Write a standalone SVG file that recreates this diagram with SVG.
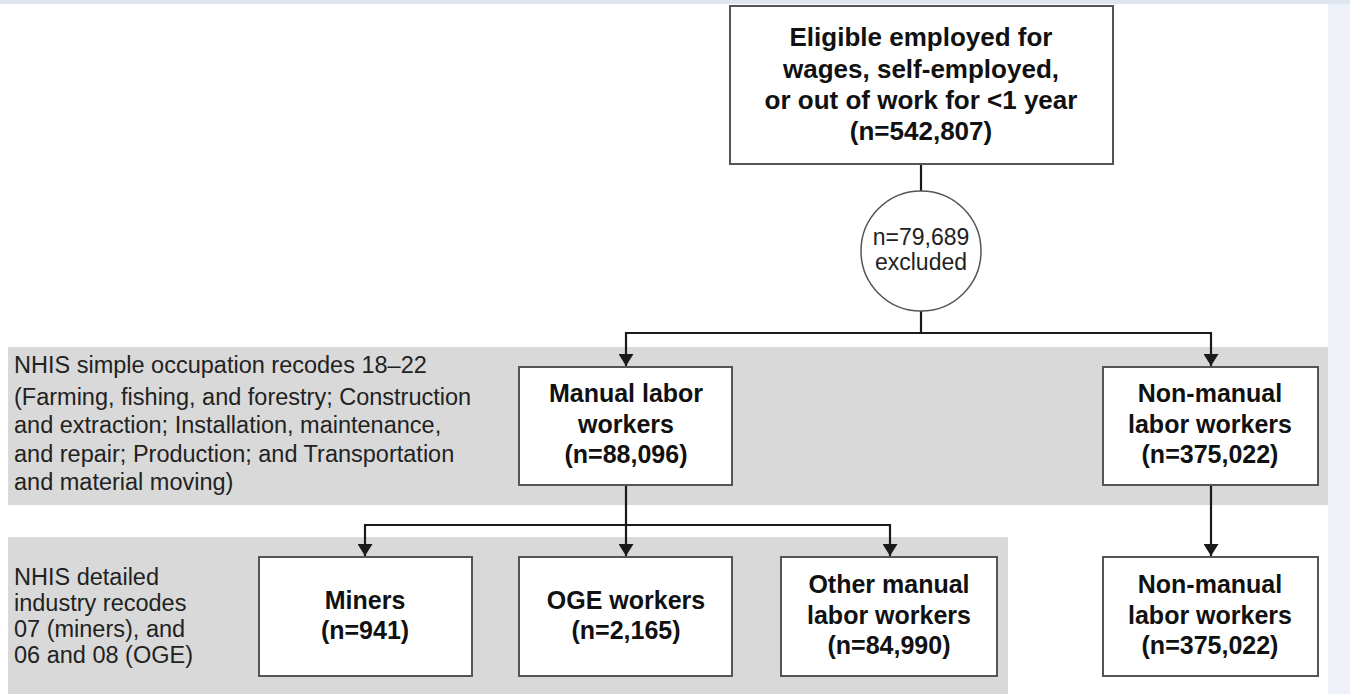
<svg xmlns="http://www.w3.org/2000/svg" width="1350" height="694" viewBox="0 0 1350 694">
<defs>
<style>
.box{fill:#fff;stroke:#555;stroke-width:2}
.band{fill:#d9d9d9}
.bt{font-family:"Liberation Sans",Arial,sans-serif;font-weight:bold;font-size:25px;fill:#111;text-anchor:middle}
.tt{font-family:"Liberation Sans",Arial,sans-serif;font-weight:bold;font-size:26px;fill:#111;text-anchor:middle}
.rt{font-family:"Liberation Sans",Arial,sans-serif;font-size:23.5px;fill:#222}
.ct{font-family:"Liberation Sans",Arial,sans-serif;font-size:23px;fill:#222;text-anchor:middle}
.ln{fill:none;stroke:#1a1a1a;stroke-width:2.2}
</style>
<marker id="ah" viewBox="0 0 12 15" refX="12" refY="7.5" markerWidth="12" markerHeight="15" markerUnits="userSpaceOnUse" orient="auto">
<path d="M0,0 L12,7.5 L0,15 Z" fill="#1a1a1a"/>
</marker>
</defs>
<rect x="0" y="0" width="1350" height="694" fill="#fff"/>
<rect x="1328" y="0" width="22" height="694" fill="#eef1f8"/>
<rect x="0" y="0" width="1350" height="4" fill="#dfe6f0"/>

<g id="band1"><rect class="band" x="8" y="347" width="1320" height="158"/>
<text class="rt" x="14" y="373">NHIS simple occupation recodes 18–22</text>
<text class="rt" x="14" y="405">(Farming, fishing, and forestry; Construction</text>
<text class="rt" x="14" y="433">and extraction; Installation, maintenance,</text>
<text class="rt" x="14" y="462">and repair; Production; and Transportation</text>
<text class="rt" x="14" y="490">and material moving)</text>
</g>
<g id="band2"><rect class="band" x="8" y="537" width="1000" height="157"/>
<text class="rt" x="14" y="585">NHIS detailed</text>
<text class="rt" x="14" y="611">industry recodes</text>
<text class="rt" x="14" y="637">07 (miners), and</text>
<text class="rt" x="14" y="663">06 and 08 (OGE)</text>
</g>

<g id="connectors">
<line class="ln" x1="921" y1="164" x2="921" y2="191"/>
<line class="ln" x1="921" y1="311" x2="921" y2="333"/>
<polyline class="ln" points="626,333 1211,333"/>
<line class="ln" x1="626" y1="332" x2="626" y2="366" marker-end="url(#ah)"/>
<line class="ln" x1="1211" y1="332" x2="1211" y2="366" marker-end="url(#ah)"/>
<line class="ln" x1="626" y1="485" x2="626" y2="525"/>
<polyline class="ln" points="365,525 890,525"/>
<line class="ln" x1="365" y1="524" x2="365" y2="556" marker-end="url(#ah)"/>
<line class="ln" x1="626" y1="524" x2="626" y2="556" marker-end="url(#ah)"/>
<line class="ln" x1="890" y1="524" x2="890" y2="556" marker-end="url(#ah)"/>
<line class="ln" x1="1211" y1="485" x2="1211" y2="556" marker-end="url(#ah)"/>
</g>

<g id="eligible"><rect class="box" x="730" y="6" width="383" height="158"/>
<text class="tt" x="921" y="46">Eligible employed for</text>
<text class="tt" x="921" y="78">wages, self-employed,</text>
<text class="tt" x="921" y="109">or out of work for &lt;1 year</text>
<text class="tt" x="921" y="140">(n=542,807)</text>
</g>
<g id="excluded"><circle cx="921" cy="251" r="60" fill="#fff" stroke="#555" stroke-width="1.5"/>
<text class="ct" x="921" y="245">n=79,689</text>
<text class="ct" x="921" y="270">excluded</text>
</g>
<g id="manual"><rect class="box" x="519" y="367" width="213" height="118"/>
<text class="bt" x="626" y="402">Manual labor</text>
<text class="bt" x="626" y="433">workers</text>
<text class="bt" x="626" y="463">(n=88,096)</text>
</g>
<g id="nonmanual"><rect class="box" x="1103" y="367" width="215" height="118"/>
<text class="bt" x="1210" y="402">Non-manual</text>
<text class="bt" x="1210" y="433">labor workers</text>
<text class="bt" x="1210" y="463">(n=375,022)</text>
</g>
<g id="miners"><rect class="box" x="259" y="557" width="213" height="119"/>
<text class="bt" x="365" y="609">Miners</text>
<text class="bt" x="365" y="639">(n=941)</text>
</g>
<g id="oge"><rect class="box" x="519" y="557" width="213" height="119"/>
<text class="bt" x="626" y="609">OGE workers</text>
<text class="bt" x="626" y="639">(n=2,165)</text>
</g>
<g id="othermanual"><rect class="box" x="781" y="557" width="216" height="119"/>
<text class="bt" x="889" y="593">Other manual</text>
<text class="bt" x="889" y="624">labor workers</text>
<text class="bt" x="889" y="654">(n=84,990)</text>
</g>
<g id="nonmanual2"><rect class="box" x="1103" y="557" width="215" height="119"/>
<text class="bt" x="1210" y="593">Non-manual</text>
<text class="bt" x="1210" y="624">labor workers</text>
<text class="bt" x="1210" y="654">(n=375,022)</text>
</g>
</svg>
